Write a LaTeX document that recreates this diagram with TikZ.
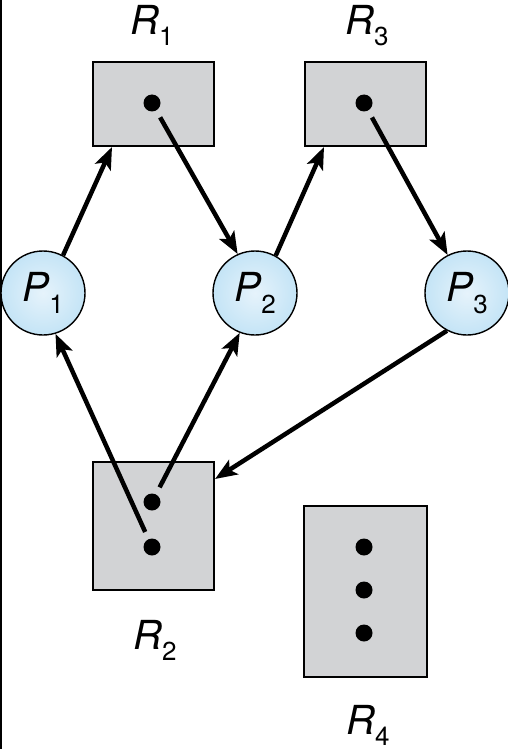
\documentclass[tikz,border=0pt]{standalone}
\usepackage{fontspec}
\setmainfont{TeX Gyre Heros}
\usetikzlibrary{arrows.meta}
\definecolor{boxgray}{RGB}{210,211,213}
\definecolor{pin}{RGB}{230,243,251}
\definecolor{pout}{RGB}{196,228,246}
\newcommand\RLab[1]{\textit{R}\raisebox{-11pt}{\fontsize{26}{26}\selectfont #1}}
\newcommand\PLab[1]{\textit{P}\raisebox{-12pt}{\fontsize{26}{26}\selectfont #1}}
\begin{document}
\begin{tikzpicture}[x=1pt,y=-1pt,
  res/.style={rectangle, draw=black, line width=2pt, fill=boxgray, inner sep=0pt},
  proc/.style={circle, draw=black, line width=1.4pt, minimum size=84pt, inner sep=0pt,
    inner color=pin, outer color=pout, font=\fontsize{40}{46}\selectfont},
  dot/.style={circle, fill=black, minimum size=17pt, inner sep=0pt, outer sep=8pt},
  edge/.style={line width=4.5pt, -{Stealth[length=22pt,width=17pt,inset=5pt]}},
  lab/.style={anchor=base, font=\fontsize{40}{46}\selectfont, inner sep=0pt}]
\useasboundingbox (0,0) rectangle (508,749);
\fill[white] (0,0) rectangle (508,749);
\draw[line width=2.5pt] (1,0) -- (1,749);
% resources
\node[res, minimum width=121pt, minimum height=84pt] (R1) at (153.5,104) {};
\node[res, minimum width=121pt, minimum height=84pt] (R3) at (365.5,104) {};
\node[res, minimum width=121pt, minimum height=128pt] (R2) at (153.5,526) {};
\node[res, minimum width=123pt, minimum height=171pt] (R4) at (365.5,591.5) {};
% instances
\node[dot] (d1) at (152,103) {};
\node[dot] (d3) at (364,103) {};
\node[dot] (d2a) at (152,502) {};
\node[dot] (d2b) at (152,547) {};
\node[dot] (d4a) at (364,547) {};
\node[dot] (d4b) at (364,590) {};
\node[dot] (d4c) at (364,633) {};
% processes
\node[proc] (P1) at (43,293) {\PLab{1}};
\node[proc] (P2) at (255,293) {\PLab{2}};
\node[proc] (P3) at (467,293) {\PLab{3}};
% labels
\node[lab] (lR1) at (152,35) {\RLab{1}};
\node[lab] (lR3) at (367,35) {\RLab{3}};
\node[lab] (lR2) at (155,649) {\RLab{2}};
\node[lab] (lR4) at (368,734) {\RLab{4}};
% edges
\draw[edge] (P1.62) -- ([xshift=20pt]R1.south west);
\draw[edge] (d1) -- (P2.114);
\draw[edge] (P2.61) -- ([xshift=20pt]R3.south west);
\draw[edge] (d3) -- (P3.117);
\draw[edge] (d2b) -- (P1.-73);
\draw[edge] (d2a) -- (P2.-111);
\draw[edge] (P3.-118) -- ([yshift=-18pt]R2.north east);
\end{tikzpicture}
\end{document}
